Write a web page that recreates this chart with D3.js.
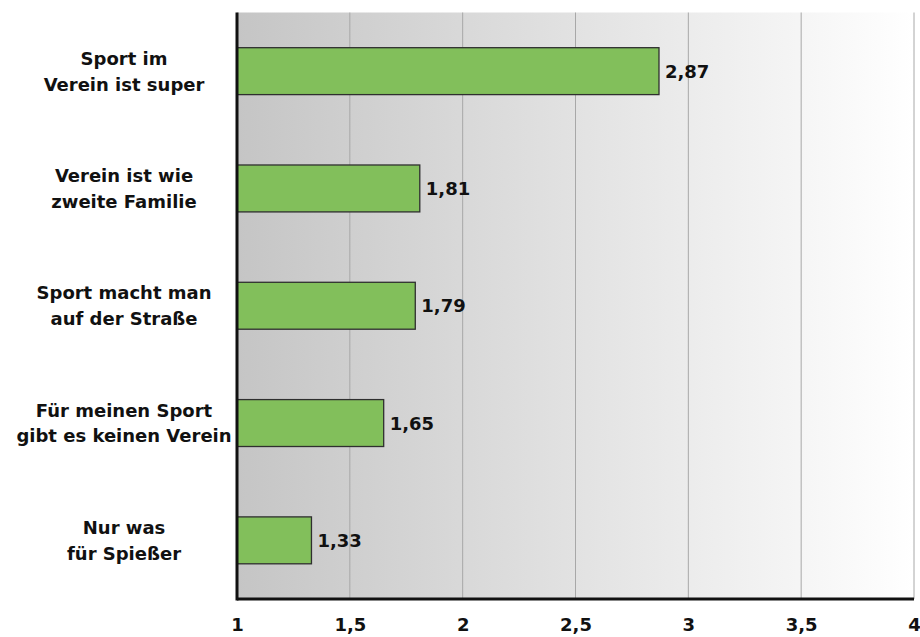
<!DOCTYPE html>
<html>
<head>
<meta charset="utf-8">
<script src="https://cdn.jsdelivr.net/npm/d3@7"></script>
<style>
  body { margin: 0; background: #fff; }
  text { font-family: "DejaVu Sans", sans-serif; }
</style>
</head>
<body>
<div id="chart"></div>
<script>
// data
const categories = [
    ["Sport im", "Verein ist super"],
    ["Verein ist wie", "zweite Familie"],
    ["Sport macht man", "auf der Straße"],
    ["Für meinen Sport", "gibt es keinen Verein"],
    ["Nur was", "für Spießer"]
];
const values = [2.87, 1.81, 1.79, 1.65, 1.33];
const tickValues = [1, 1.5, 2, 2.5, 3, 3.5, 4];
const tickLabels = ["1", "1,5", "2", "2,5", "3", "3,5", "4"];

const W = 920, H = 637;
const margin = { top: 12.5, right: 5, bottom: 38, left: 237 };
const width = W - margin.left - margin.right;
const height = H - margin.top - margin.bottom;

const svg = d3.select("#chart")
    .append("svg")
    .attr("width", W)
    .attr("height", H);

// background gradient
const grad = svg.append("defs").append("linearGradient")
    .attr("id", "bg")
    .attr("x1", "0%").attr("x2", "100%").attr("y1", "0%").attr("y2", "0%");
grad.append("stop").attr("offset", "0%").attr("stop-color", "#c5c5c5");
grad.append("stop").attr("offset", "100%").attr("stop-color", "#ffffff");

const g = svg.append("g")
    .attr("transform", `translate(${margin.left}, ${margin.top})`);

const xScale = d3.scaleLinear()
    .domain([1, 4])
    .range([0, width - 1]);

const yScale = d3.scaleBand()
    .domain(d3.range(categories.length))
    .range([0, height])
    .paddingInner(0.6)
    .paddingOuter(0.3);

g.append("rect")
    .attr("width", xScale(4))
    .attr("height", height)
    .attr("fill", "url(#bg)");

// gridlines
g.selectAll("line.grid")
    .data(tickValues.slice(1))
    .enter()
    .append("line")
    .attr("class", "grid")
    .attr("x1", d => xScale(d))
    .attr("x2", d => xScale(d))
    .attr("y1", 0)
    .attr("y2", height)
    .attr("stroke", "#a8a8a8")
    .attr("stroke-width", 1);

// bars
g.selectAll("rect.bar")
    .data(values)
    .enter()
    .append("rect")
    .attr("class", "bar")
    .attr("x", xScale(1))
    .attr("y", (d, i) => yScale(i))
    .attr("width", d => xScale(d) - xScale(1))
    .attr("height", yScale.bandwidth())
    .attr("fill", "#82bf5b")
    .attr("stroke", "#2f2f2f")
    .attr("stroke-width", 1.3);

// value labels
g.selectAll("text.val")
    .data(values)
    .enter()
    .append("text")
    .attr("class", "val")
    .attr("x", d => xScale(d) + 6)
    .attr("y", (d, i) => yScale(i) + yScale.bandwidth() / 2)
    .attr("dy", "0.36em")
    .style("font-size", "18px")
    .style("font-weight", 700)
    .attr("fill", "#111")
    .text(d => d.toFixed(2).replace(".", ","));

// category labels
const labels = g.selectAll("text.cat")
    .data(categories)
    .enter()
    .append("text")
    .attr("class", "cat")
    .attr("text-anchor", "middle")
    .attr("x", -113)
    .attr("y", (d, i) => yScale(i) + yScale.bandwidth() / 2)
    .style("font-size", "18px")
    .style("font-weight", 700)
    .attr("fill", "#111");
labels.selectAll("tspan")
    .data(d => d)
    .enter()
    .append("tspan")
    .attr("x", -113)
    .attr("dy", (d, i) => i === 0 ? "-0.36em" : "1.44em")
    .text(d => d);

// x axis
const xAxis = d3.axisBottom(xScale)
    .tickValues(tickValues)
    .tickFormat((d, i) => tickLabels[i])
    .tickSize(0)
    .tickPadding(19);

const axisG = g.append("g")
    .attr("transform", `translate(0, ${height})`)
    .call(xAxis);
axisG.select(".domain").remove();
axisG.selectAll("text")
    .style("font-family", "'DejaVu Sans', sans-serif")
    .style("font-size", "18px")
    .style("font-weight", 700)
    .attr("fill", "#111");

// axis lines
g.append("line")
    .attr("x1", 0).attr("x2", xScale(4))
    .attr("y1", height).attr("y2", height)
    .attr("stroke", "#111").attr("stroke-width", 3);
g.append("line")
    .attr("x1", 0).attr("x2", 0)
    .attr("y1", 0).attr("y2", height + 1.5)
    .attr("stroke", "#111").attr("stroke-width", 3);
</script>
</body>
</html>
